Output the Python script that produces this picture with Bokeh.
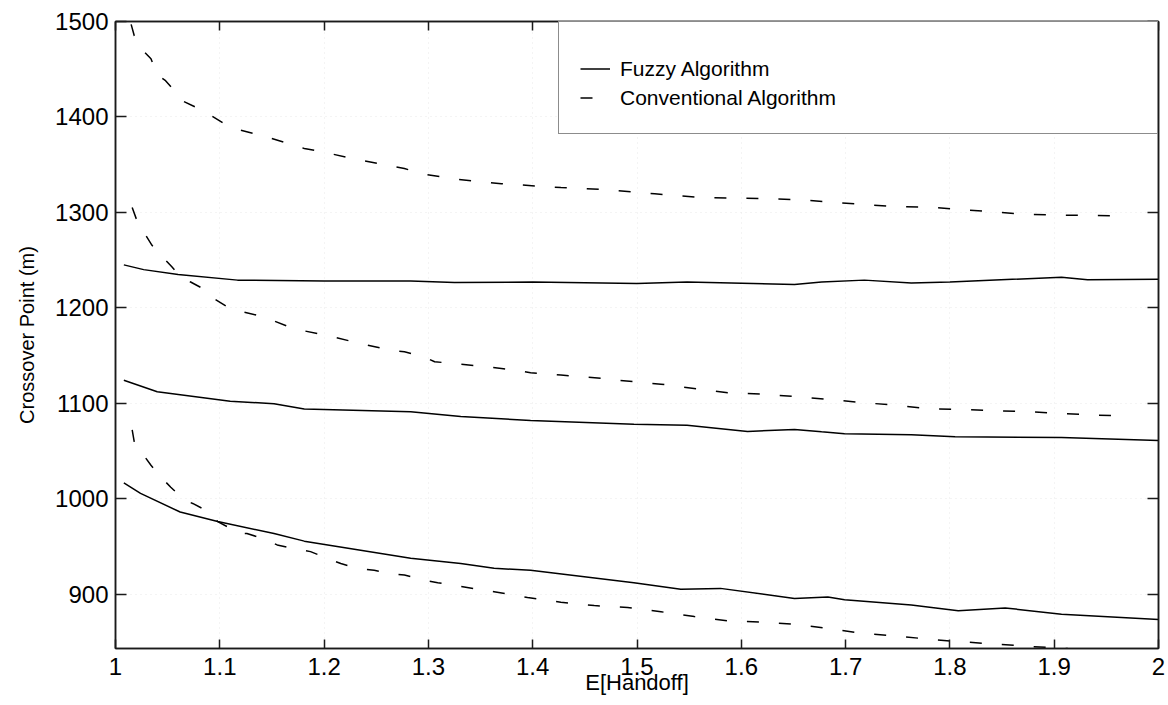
from bokeh.plotting import figure
from bokeh.models import LinearAxis, FixedTicker, Range1d, Legend, LegendItem
from bokeh.embed import file_html
from bokeh.resources import INLINE

# ---- data ----
fuzzy_hi_x = [1.008, 1.027, 1.06, 1.117, 1.2, 1.283, 1.325, 1.4, 1.5, 1.548, 1.651, 1.677, 1.718, 1.763, 1.8, 1.907, 1.932, 2.0]
fuzzy_hi_y = [1245, 1240, 1235, 1229, 1228, 1228, 1226.5, 1227, 1225.5, 1227, 1224.5, 1227, 1229, 1226, 1227, 1232, 1229.5, 1230]

fuzzy_mid_x = [1.008, 1.04, 1.11, 1.152, 1.181, 1.283, 1.331, 1.398, 1.497, 1.548, 1.606, 1.651, 1.677, 1.699, 1.763, 1.805, 1.907, 2.0]
fuzzy_mid_y = [1124, 1112, 1102, 1099.5, 1094, 1091, 1086, 1082, 1078, 1077, 1070.5, 1072.5, 1070, 1068, 1067, 1065, 1064, 1061]

fuzzy_lo_x = [1.008, 1.024, 1.062, 1.098, 1.152, 1.181, 1.283, 1.331, 1.363, 1.398, 1.497, 1.542, 1.58, 1.651, 1.683, 1.699, 1.763, 1.808, 1.853, 1.907, 2.0]
fuzzy_lo_y = [1016.5, 1005.5, 986, 976, 963.5, 955.5, 937.5, 932, 927, 925, 912, 905, 906, 895.5, 897, 894, 888.5, 882.5, 885.5, 879, 873.5]

conv_hi_x = [1.015, 1.018, 1.026, 1.034, 1.04, 1.048, 1.061, 1.064, 1.083, 1.091, 1.107, 1.12, 1.139, 1.181, 1.2, 1.229, 1.277, 1.293, 1.325, 1.37, 1.427, 1.466, 1.517, 1.562, 1.62, 1.658, 1.683, 1.747, 1.779, 1.811, 1.846, 1.875, 1.91, 1.955]
conv_hi_y = [1497, 1485, 1470, 1461, 1444, 1438, 1422, 1417, 1407, 1402, 1391, 1386, 1381, 1367, 1363, 1356, 1346, 1340.5, 1335, 1330, 1326, 1324, 1319.5, 1315.5, 1314.5, 1313, 1311, 1306, 1305.5, 1303, 1300, 1298, 1297, 1296.5]

conv_mid_x = [1.016, 1.021, 1.035, 1.048, 1.054, 1.064, 1.072, 1.09, 1.094, 1.11, 1.123, 1.142, 1.171, 1.203, 1.235, 1.264, 1.277, 1.296, 1.306, 1.325, 1.37, 1.398, 1.427, 1.466, 1.497, 1.523, 1.562, 1.587, 1.62, 1.658, 1.683, 1.718, 1.747, 1.782, 1.814, 1.846, 1.878, 1.91, 1.955]
conv_mid_y = [1305, 1290, 1265.5, 1250, 1243, 1230.5, 1227, 1216.5, 1210, 1199, 1195.5, 1190.5, 1178, 1171, 1162.5, 1155.5, 1154, 1148.5, 1143.5, 1141.5, 1136.5, 1132, 1129.5, 1126, 1122.5, 1120, 1114.5, 1111, 1109.5, 1106.5, 1104, 1100.5, 1098, 1094, 1093.5, 1092, 1091, 1089, 1087]

conv_lo_x = [1.016, 1.018, 1.027, 1.034, 1.045, 1.053, 1.066, 1.074, 1.09, 1.098, 1.11, 1.117, 1.126, 1.146, 1.155, 1.174, 1.187, 1.203, 1.216, 1.232, 1.248, 1.264, 1.277, 1.296, 1.309, 1.328, 1.363, 1.395, 1.427, 1.459, 1.491, 1.523, 1.555, 1.587, 1.62, 1.651, 1.683, 1.715, 1.75, 1.782, 1.811, 1.846, 1.878, 1.913, 1.939, 1.955]
conv_lo_y = [1072, 1059.5, 1045.5, 1035, 1021, 1012, 998.5, 995, 986, 976, 969, 963.5, 963.5, 956.5, 951.5, 947, 944.5, 937.5, 932, 927, 925, 921.5, 920, 914.5, 912, 908.5, 902.5, 896.5, 891.5, 888, 886, 881.5, 876.5, 872, 870.5, 868.5, 864, 859, 856, 852.5, 850, 847.5, 845, 843, 842, 841.5]

x_ticks = [1.0, 1.1, 1.2, 1.3, 1.4, 1.5, 1.6, 1.7, 1.8, 1.9, 2.0]
x_tick_labels = ["1", "1.1", "1.2", "1.3", "1.4", "1.5", "1.6", "1.7", "1.8", "1.9", "2"]
y_ticks = [900, 1000, 1100, 1200, 1300, 1400, 1500]

FONT = "Liberation Sans"
INK = "#1a1a1a"

p = figure(width=1168, height=705, output_backend="svg", toolbar_location=None,
           x_range=Range1d(1.0, 2.0), y_range=Range1d(843, 1500),
           min_border_left=115, min_border_right=10, min_border_top=21, min_border_bottom=57,
           background_fill_color="white", border_fill_color="white")

top_ax = LinearAxis()
right_ax = LinearAxis()
p.add_layout(top_ax, "above")
p.add_layout(right_ax, "right")

bx = p.below[0]
ly = p.left[0]

for ax in [bx, top_ax]:
    ax.ticker = FixedTicker(ticks=x_ticks)
    ax.major_tick_in = 9
for ax in [ly, right_ax]:
    ax.ticker = FixedTicker(ticks=y_ticks)
    ax.major_tick_in = 11

for ax in [bx, ly, top_ax, right_ax]:
    ax.major_tick_out = 0
    ax.minor_tick_line_color = None
    ax.major_tick_line_color = INK
    ax.major_tick_line_width = 1.5
    ax.axis_line_color = INK
    ax.axis_line_width = 1.5
    ax.major_label_text_font = FONT
    ax.major_label_text_color = "black"
    ax.axis_label_text_font = FONT
    ax.axis_label_text_font_style = "normal"
    ax.axis_label_text_color = "black"

bx.major_label_overrides = dict(zip(x_ticks, x_tick_labels))
bx.major_label_text_font_size = "24px"
bx.major_label_standoff = 9
bx.axis_label = "E[Handoff]"
bx.axis_label_text_font_size = "22px"
bx.axis_label_standoff = -8

ly.major_label_text_font_size = "24px"
ly.major_label_standoff = 7
ly.axis_label = "Crossover Point (m)"
ly.axis_label_text_font_size = "20px"
ly.axis_label_standoff = 14

# top / right axes: ticks only
for ax in [top_ax, right_ax]:
    ax.major_label_text_font_size = "1px"
    ax.major_label_text_color = None
    ax.major_label_standoff = 0

p.outline_line_color = INK
p.outline_line_width = 1.5

p.xgrid.ticker = FixedTicker(ticks=x_ticks)
p.ygrid.ticker = FixedTicker(ticks=y_ticks)
p.grid.grid_line_color = "#e8e8e8"
p.grid.grid_line_dash = "1 4"
p.grid.grid_line_width = 1

LW = 1.5
DASH = "12 20"
f1 = p.line(fuzzy_hi_x, fuzzy_hi_y, line_color="black", line_width=LW)
p.line(fuzzy_mid_x, fuzzy_mid_y, line_color="black", line_width=LW)
p.line(fuzzy_lo_x, fuzzy_lo_y, line_color="black", line_width=LW)
c1 = p.line(conv_hi_x, conv_hi_y, line_color="black", line_width=LW, line_dash=DASH)
p.line(conv_mid_x, conv_mid_y, line_color="black", line_width=LW, line_dash=DASH)
p.line(conv_lo_x, conv_lo_y, line_color="black", line_width=LW, line_dash=DASH)

legend = Legend(items=[LegendItem(label="Fuzzy Algorithm", renderers=[f1]),
                       LegendItem(label="Conventional Algorithm", renderers=[c1])],
                location="top_right", margin=0, padding=21, spacing=0,
                label_height=29, glyph_height=29, glyph_width=30,
                label_standoff=10, label_width=516,
                title=" ", title_text_font_size="1px", title_standoff=10,
                border_line_color=INK, border_line_width=1.3,
                background_fill_color="white", background_fill_alpha=1.0,
                label_text_font=FONT, label_text_font_size="21px", label_text_color="black")
p.add_layout(legend)

open("out.html", "w").write(file_html(p, INLINE))
